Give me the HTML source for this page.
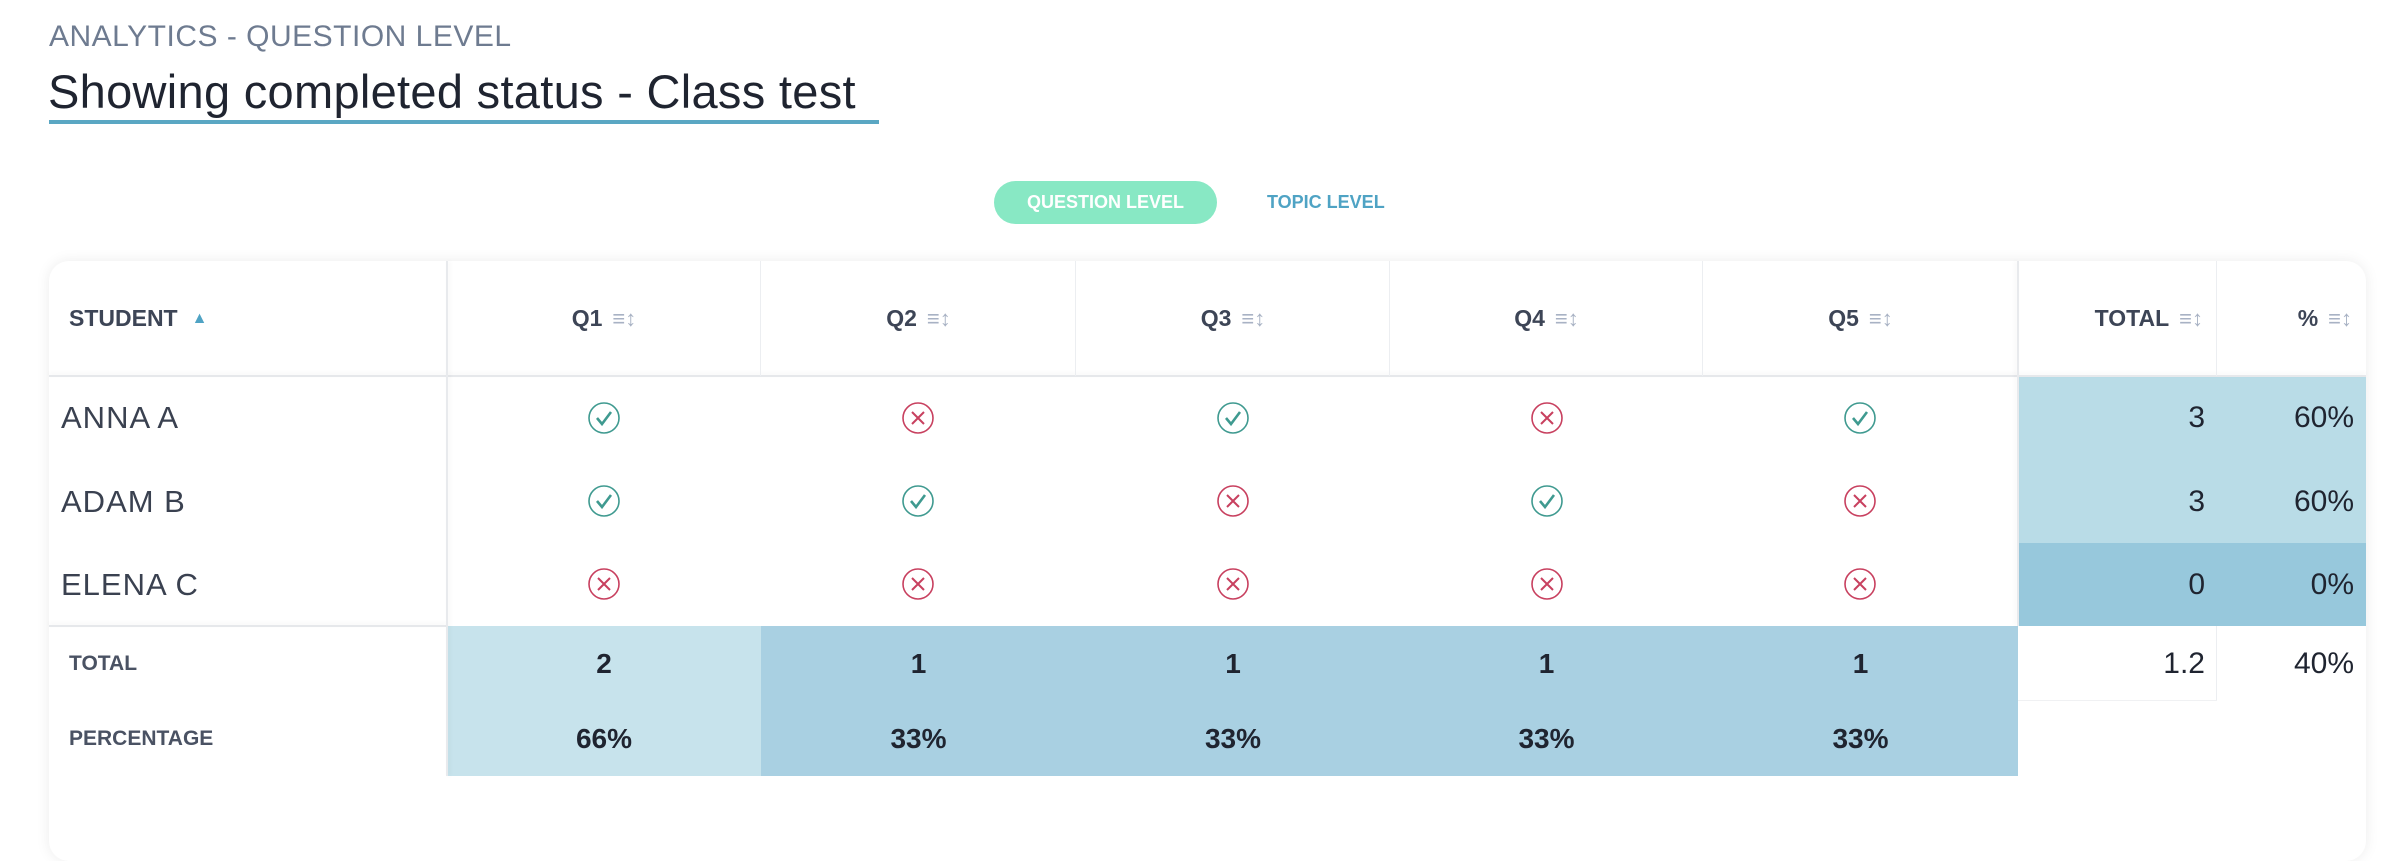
<!DOCTYPE html>
<html><head><meta charset="utf-8">
<style>
*{margin:0;padding:0;box-sizing:border-box}
body{width:2406px;height:814px;background:#fff;position:relative;overflow:hidden;font-family:"Liberation Sans",sans-serif}
.a{position:absolute}
.sup{left:49px;top:20px;font-size:30px;color:#6e7b90;letter-spacing:0.5px}
.h{left:48px;top:64px;font-size:47px;color:#1f2430;letter-spacing:0.3px}
.ul{left:49px;top:120px;width:830px;height:4px;background:#5aa7c3}
.pill{left:994px;top:181px;width:223px;height:43px;border-radius:22px;background:#88e8c4;color:#fff;font-weight:bold;font-size:18px;text-align:center;line-height:43px}
.topic{left:1267px;top:181px;line-height:43px;font-weight:bold;font-size:18px;color:#4fa3c4}
.card{left:49px;top:261px;width:2317px;height:600px;border-radius:20px;background:#fff;box-shadow:0 0 14px rgba(0,0,0,0.08)}
.hdr{font-weight:bold;font-size:23px;color:#3d4556;display:flex;align-items:center;justify-content:center;height:115px;top:261px}
.sort{display:inline-block;margin-left:10px;color:#a8b2c4;font-size:22px;font-weight:normal}
.cell{display:flex;align-items:center;justify-content:center}
.name{font-size:31px;letter-spacing:1px;color:#3a4150;left:61px;height:83px;display:flex;align-items:center}
.num{font-size:28px;font-weight:bold;color:#1f2430}
.foot{font-weight:bold;font-size:21px;color:#4a5263;left:69px;display:flex;align-items:center}
.vl{width:2px;background:#eceef1}
.r{display:flex;align-items:center;justify-content:flex-end;font-weight:normal;font-size:30px}
</style></head><body>
<div class="a sup">ANALYTICS - QUESTION LEVEL</div>
<div class="a h">Showing completed status - Class test</div>
<div class="a ul"></div>
<div class="a pill">QUESTION LEVEL</div>
<div class="a topic">TOPIC LEVEL</div>
<div class="a card"></div>

<div class="a" style="left:2018px;top:376px;width:348px;height:167px;background:#b9dce7"></div>
<div class="a" style="left:2018px;top:543px;width:348px;height:83px;background:#97c8dc"></div>
<div class="a" style="left:447px;top:626px;width:314px;height:150px;background:#c7e3ec"></div>
<div class="a" style="left:761px;top:626px;width:1257px;height:150px;background:#a9d0e2"></div>

<div class="a" style="left:49px;top:375px;width:2317px;height:2px;background:#e6e8eb;box-shadow:0 -2px 4px rgba(0,0,0,0.05)"></div>
<div class="a" style="left:49px;top:625px;width:398px;height:2px;background:#e6e8eb;box-shadow:0 -2px 4px rgba(0,0,0,0.05)"></div>
<div class="a vl" style="left:446px;top:261px;height:515px;background:#e8eaed;box-shadow:2px 0 4px rgba(0,0,0,0.05)"></div>
<div class="a vl" style="left:2017px;top:261px;height:365px;background:#e8eaed;box-shadow:-2px 0 4px rgba(0,0,0,0.05)"></div>
<div class="a vl" style="left:760px;top:261px;height:115px;width:1px"></div>
<div class="a vl" style="left:1075px;top:261px;height:115px;width:1px"></div>
<div class="a vl" style="left:1389px;top:261px;height:115px;width:1px"></div>
<div class="a vl" style="left:1702px;top:261px;height:115px;width:1px"></div>
<div class="a vl" style="left:2216px;top:261px;height:115px;width:1px"></div>
<div class="a vl" style="left:2216px;top:626px;height:75px;width:1px"></div>
<div class="a" style="left:2018px;top:700px;width:199px;height:1px;background:#f0f1f3"></div>

<div class="a hdr" style="left:69px;justify-content:flex-start">STUDENT<span style="margin-left:14px;color:#4fa3c4;font-size:16px">&#9650;</span></div>
<div class="a hdr" style="left:447px;width:314px">Q1<span class="sort">&#8801;&#8597;</span></div>
<div class="a hdr" style="left:761px;width:315px">Q2<span class="sort">&#8801;&#8597;</span></div>
<div class="a hdr" style="left:1076px;width:314px">Q3<span class="sort">&#8801;&#8597;</span></div>
<div class="a hdr" style="left:1390px;width:313px">Q4<span class="sort">&#8801;&#8597;</span></div>
<div class="a hdr" style="left:1703px;width:315px">Q5<span class="sort">&#8801;&#8597;</span></div>
<div class="a hdr" style="left:2018px;width:199px;justify-content:flex-end;padding-right:14px">TOTAL<span class="sort">&#8801;&#8597;</span></div>
<div class="a hdr" style="left:2217px;width:149px;justify-content:flex-end;padding-right:14px">%<span class="sort">&#8801;&#8597;</span></div>

<div class="a name" style="top:376px">ANNA A</div>
<div class="a name" style="top:460px">ADAM B</div>
<div class="a name" style="top:543px">ELENA C</div>

<svg class="a" style="left:0;top:0" width="2406" height="814">
<defs>
<g id="ok"><circle cx="0" cy="0" r="15" fill="none" stroke="#3f9a90" stroke-width="1.6"/><path d="M-7,0 L-2,6 L7,-6" fill="none" stroke="#3f9a90" stroke-width="2.6"/></g>
<g id="no"><circle cx="0" cy="0" r="15" fill="none" stroke="#c8405f" stroke-width="1.6"/><path d="M-6,-6 L6,6 M6,-6 L-6,6" fill="none" stroke="#c8405f" stroke-width="2"/></g>
</defs>
<use href="#ok" x="604" y="418"/><use href="#no" x="918" y="418"/><use href="#ok" x="1233" y="418"/><use href="#no" x="1547" y="418"/><use href="#ok" x="1860" y="418"/>
<use href="#ok" x="604" y="501"/><use href="#ok" x="918" y="501"/><use href="#no" x="1233" y="501"/><use href="#ok" x="1547" y="501"/><use href="#no" x="1860" y="501"/>
<use href="#no" x="604" y="584"/><use href="#no" x="918" y="584"/><use href="#no" x="1233" y="584"/><use href="#no" x="1547" y="584"/><use href="#no" x="1860" y="584"/>
</svg>

<div class="a num r" style="left:2018px;top:376px;width:187px;height:83px">3</div>
<div class="a num r" style="left:2217px;top:376px;width:137px;height:83px">60%</div>
<div class="a num r" style="left:2018px;top:460px;width:187px;height:83px">3</div>
<div class="a num r" style="left:2217px;top:460px;width:137px;height:83px">60%</div>
<div class="a num r" style="left:2018px;top:543px;width:187px;height:83px">0</div>
<div class="a num r" style="left:2217px;top:543px;width:137px;height:83px">0%</div>
<div class="a num r" style="left:2018px;top:626px;width:187px;height:75px">1.2</div>
<div class="a num r" style="left:2217px;top:626px;width:137px;height:75px">40%</div>

<div class="a foot" style="top:626px;height:75px">TOTAL</div>
<div class="a foot" style="top:701px;height:75px">PERCENTAGE</div>
<div class="a cell num" style="left:447px;top:626px;width:314px;height:75px">2</div>
<div class="a cell num" style="left:761px;top:626px;width:315px;height:75px">1</div>
<div class="a cell num" style="left:1076px;top:626px;width:314px;height:75px">1</div>
<div class="a cell num" style="left:1390px;top:626px;width:313px;height:75px">1</div>
<div class="a cell num" style="left:1703px;top:626px;width:315px;height:75px">1</div>
<div class="a cell num" style="left:447px;top:701px;width:314px;height:75px">66%</div>
<div class="a cell num" style="left:761px;top:701px;width:315px;height:75px">33%</div>
<div class="a cell num" style="left:1076px;top:701px;width:314px;height:75px">33%</div>
<div class="a cell num" style="left:1390px;top:701px;width:313px;height:75px">33%</div>
<div class="a cell num" style="left:1703px;top:701px;width:315px;height:75px">33%</div>
</body></html>
